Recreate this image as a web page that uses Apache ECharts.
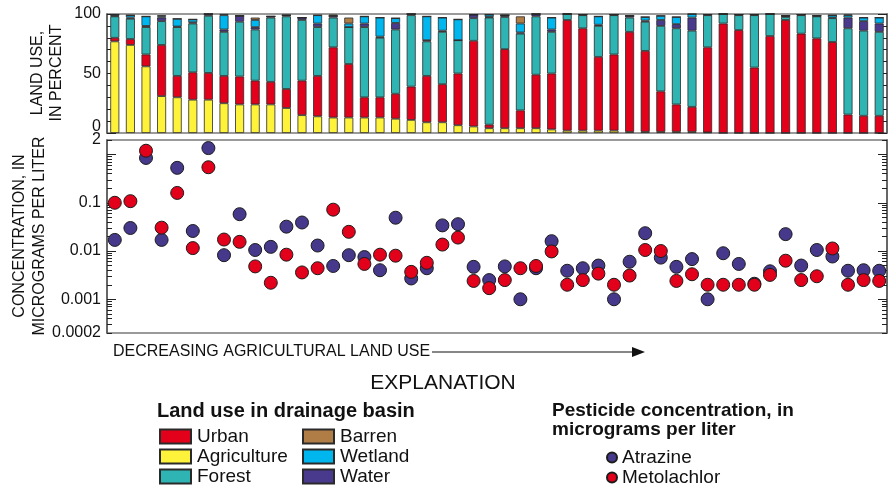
<!DOCTYPE html>
<html>
<head>
<meta charset="utf-8">
<script src="https://cdn.jsdelivr.net/npm/echarts@6/dist/echarts.min.js"></script>
<style>
  html, body { margin: 0; padding: 0; background: #fff; }
  #chart { width: 894px; height: 489px; }
</style>
</head>
<body>
<div id="chart"></div>
<script>
// Drainage basins, ordered by decreasing agricultural land use
const basins = ['1','2','3','4','5','6','7','8','9','10','11','12','13','14','15','16','17','18','19','20',
  '21','22','23','24','25','26','27','28','29','30','31','32','33','34','35','36','37','38','39','40',
  '41','42','43','44','45','46','47','48','49','50'];

// Land use in each drainage basin, percent
const agriculture = [77,74,56,31,30,28,28,25,24,24, 24,21,15,14,13,13,13,13,12,11,
  9,9,6.5,5.5,4,4,4,4,3,2, 2,2,2,1,1,1,1,1,0.5,0, 0,0,0,0,0,0,0,0,0,0];
const urban = [3,5,10,43,18,23,22.5,23,23.5,20, 19,16,29,34,59,45,17,17,21,28,
  39,32,43.5,72,3,66.5,15,45,47,93, 86,62,64,84,68,34,23,21,71.5,92,
  86.5,55,81.5,95,83.5,79.5,76.5,15.5,14.5,14.5];
const forest = [18,17,23,20,41,41,48,37,46,43, 54,61,51,41,25,31,59,50,54,60,
  29,44,28,19,90,27,64.5,49,35,5, 11,26,33,12,24.5,55,64,64,27,8,
  12.5,44,18.5,2.5,15.5,18.5,20,72.5,71.5,70.5];
const water = [0.5,1,1,3,0.5,1,1.5,2,5,2, 1,1,2,3,1.5,0,3,1,5.5,1,
  1,1,0,3,0.5,1.5,1,2,2,0, 0.5,1,0.5,1.5,1,5,3.5,11,0.5,0,
  0.5,0.5,0,1,0.5,0.5,0.5,9,8,7];
const wetland = [1,2,8,1,6.5,2.5,0,12,0,6, 0,0,0,7,0,3,6,16,4,0,
  20,11,17.5,0,2,0,7.5,0,10,0, 0,7,0,0,3,3.5,6,3,0,0,
  0,0,0,0,0,0,2,2,3,5];
const barren = [0,0,0,1,0,0,0,1,0,2, 0,0,0,0,1,5,0,0,0,0,
  0,0,0,0,0,0,6,0,0,0, 0,0,0,0,0,0,0,0,0,0,
  0,0,0,0,0,0,0,0.5,0,0];

// Pesticide concentrations, micrograms per liter
const atrazine = [0.017,0.030,0.85,0.017,0.53,0.026,1.36,0.0082,0.058,0.0105,
  0.0122,0.032,0.039,0.013,0.0049,0.0082,0.0075,0.004,0.049,0.0027,
  0.0044,0.034,0.036,0.0047,0.0025,0.0048,0.001,0.0044,0.016,0.0039,
  0.0044,0.005,0.001,0.006,0.0234,0.0073,0.0047,0.0068,0.001,0.009,
  0.0054,0.0021,0.0038,0.0224,0.005,0.0105,0.0077,0.0039,0.004,0.0039];
const metolachlor = [0.10,0.108,1.2,0.0305,0.16,0.0115,0.545,0.0173,0.0155,0.0048,
  0.0022,0.0084,0.0036,0.0044,0.072,0.025,0.0054,0.0084,0.008,0.0037,
  0.0057,0.0136,0.019,0.0024,0.0017,0.0025,0.0044,0.0049,0.0098,0.002,
  0.0025,0.0034,0.002,0.0031,0.0105,0.01,0.0024,0.0033,0.002,0.002,
  0.002,0.002,0.0032,0.0063,0.0025,0.003,0.0113,0.002,0.0025,0.0024];

// Axis ticks
const percentTicks = [0, 50, 100];
const concLabels = [0.0002, 0.001, 0.01, 0.1, 2];
const concDecades = [0.001, 0.01, 0.1, 1];
const concMin = 0.0002, concMax = 2;

const FONT = '"Liberation Sans", Arial, Helvetica, sans-serif';
const colors = {
  Urban: '#e3001b', Agriculture: '#fff23a', Forest: '#2fb4b4',
  Barren: '#b17d46', Wetland: '#00b6ee', Water: '#4a3a8e',
  Atrazine: '#46388b', Metolachlor: '#e3001b'
};

// minor log ticks: 1..9 within each decade
const concMinor = [];
[0.0001, 0.001, 0.01, 0.1, 1].forEach(d => {
  for (let m = 1; m <= 9; m++) {
    const v = +(m * d).toPrecision(6);
    if (v >= concMin && v <= concMax) concMinor.push(v);
  }
});

const fmtNum = v => String(+(+v).toPrecision(6));

const chart = echarts.init(document.getElementById('chart'), null, { renderer: 'canvas' });

function barSeries(name, data) {
  return {
    name, type: 'bar', stack: 'land', data,
    xAxisIndex: 0, yAxisIndex: 0, barWidth: 9,
    itemStyle: { color: colors[name], borderColor: '#2a2a2a', borderWidth: 0.8 },
    emphasis: { disabled: true }
  };
}
function dotSeries(name, data) {
  return {
    name, type: 'scatter', data,
    xAxisIndex: 1, yAxisIndex: 4, symbolSize: 13,
    itemStyle: { color: colors[name], borderColor: '#1c1c1c', borderWidth: 1, opacity: 1 },
    emphasis: { disabled: true }
  };
}

const tickLine = { color: '#222', width: 1 };
const axisLine = { show: true, lineStyle: { color: '#555', width: 1.5 } };
const legendText = { fontSize: 19, color: '#111', fontFamily: FONT, lineHeight: 19 };

const option = {
  animation: false,
  textStyle: { fontFamily: FONT },
  grid: [
    { left: 107, top: 14, width: 780, height: 119, show: true, borderColor: '#7a7a7a', borderWidth: 1.5 },
    { left: 107, top: 140, width: 780, height: 193, show: true, borderColor: '#7a7a7a', borderWidth: 1.5 }
  ],
  xAxis: [
    { type: 'category', data: basins, gridIndex: 0, show: false },
    { type: 'category', data: basins, gridIndex: 1, show: false }
  ],
  yAxis: [
    // land use, left side with labels
    { gridIndex: 0, type: 'value', min: 0, max: 100, interval: 10, position: 'left',
      axisLine, splitLine: { show: false },
      axisTick: { show: true, inside: true, length: 5, lineStyle: tickLine },
      axisLabel: { fontSize: 16, color: '#111', margin: 6,
        rich: { lo: { fontSize: 16, color: '#111', padding: [0, 0, 12, 0] } },
        formatter: v => v === 0 ? '{lo|0}' : (percentTicks.includes(v) ? String(v) : '') } },
    { gridIndex: 0, type: 'value', min: 0, max: 100, interval: 10, position: 'right',
      axisLine, splitLine: { show: false },
      axisTick: { show: true, inside: true, length: 5, lineStyle: tickLine }, axisLabel: { show: false } },
    { gridIndex: 0, type: 'value', min: 0, max: 100, interval: 50, position: 'left',
      axisLine: { show: false }, splitLine: { show: false },
      axisTick: { show: true, inside: true, length: 9, lineStyle: tickLine }, axisLabel: { show: false } },
    { gridIndex: 0, type: 'value', min: 0, max: 100, interval: 50, position: 'right',
      axisLine: { show: false }, splitLine: { show: false },
      axisTick: { show: true, inside: true, length: 9, lineStyle: tickLine }, axisLabel: { show: false } },
    // concentration, log scale
    { gridIndex: 1, type: 'log', logBase: 10, min: concMin, max: concMax, position: 'left',
      axisLine, splitLine: { show: false },
      axisTick: { show: true, inside: true, length: 5, lineStyle: tickLine, customValues: concMinor },
      axisLabel: { fontSize: 16, color: '#111', margin: 6, customValues: concLabels,
        formatter: v => fmtNum(v) } },
    { gridIndex: 1, type: 'log', logBase: 10, min: concMin, max: concMax, position: 'right',
      axisLine, splitLine: { show: false },
      axisTick: { show: true, inside: true, length: 5, lineStyle: tickLine, customValues: concMinor },
      axisLabel: { show: false } },
    { gridIndex: 1, type: 'log', logBase: 10, min: concMin, max: concMax, position: 'left',
      axisLine: { show: false }, splitLine: { show: false },
      axisTick: { show: true, inside: true, length: 9, lineStyle: tickLine, customValues: concDecades },
      axisLabel: { show: false } },
    { gridIndex: 1, type: 'log', logBase: 10, min: concMin, max: concMax, position: 'right',
      axisLine: { show: false }, splitLine: { show: false },
      axisTick: { show: true, inside: true, length: 9, lineStyle: tickLine, customValues: concDecades },
      axisLabel: { show: false } }
  ],
  legend: [
    { data: ['Urban', 'Agriculture', 'Forest'], orient: 'vertical', left: 159, top: 427, padding: 0,
      icon: 'rect', itemWidth: 31, itemHeight: 14, itemGap: 1, selectedMode: false,
      textStyle: Object.assign({ padding: [0, 0, 0, 1] }, legendText) },
    { data: ['Barren', 'Wetland', 'Water'], orient: 'vertical', left: 302, top: 427, padding: 0,
      icon: 'rect', itemWidth: 31, itemHeight: 14, itemGap: 1, selectedMode: false,
      textStyle: Object.assign({ padding: [0, 0, 0, 1] }, legendText) },
    { data: ['Atrazine', 'Metolachlor'], orient: 'vertical', left: 606, top: 448, padding: 0,
      icon: 'circle', itemWidth: 10, itemHeight: 10, itemGap: 1, selectedMode: false,
      textStyle: legendText }
  ],
  graphic: [
    { type: 'text', x: 47, y: 73, rotation: Math.PI / 2,
      style: { text: 'LAND USE,\nIN PERCENT', font: '16px ' + FONT, fill: '#111',
        align: 'center', verticalAlign: 'middle', lineHeight: 19 } },
    { type: 'text', x: 30, y: 236, rotation: Math.PI / 2,
      style: { text: 'CONCENTRATION, IN\nMICROGRAMS PER LITER', font: '16px ' + FONT, fill: '#111',
        align: 'center', verticalAlign: 'middle', lineHeight: 20 } },
    { type: 'text', x: 113, y: 352,
      style: { text: 'DECREASING AGRICULTURAL LAND USE', font: '16px ' + FONT, fill: '#111',
        align: 'left', verticalAlign: 'middle' } },
    { type: 'line', shape: { x1: 432, y1: 352, x2: 636, y2: 352 },
      style: { stroke: '#111', lineWidth: 1.2 } },
    { type: 'polygon', shape: { points: [[645, 352], [632, 347], [632, 357]] },
      style: { fill: '#111' } },
    { type: 'text', x: 443, y: 383,
      style: { text: 'EXPLANATION', font: '21px ' + FONT, fill: '#111',
        align: 'center', verticalAlign: 'middle' } },
    { type: 'text', x: 157, y: 411,
      style: { text: 'Land use in drainage basin', font: 'bold 20px ' + FONT, fill: '#111',
        align: 'left', verticalAlign: 'middle' } },
    { type: 'text', x: 552, y: 420,
      style: { text: 'Pesticide concentration, in\nmicrograms per liter', font: 'bold 19px ' + FONT,
        fill: '#111', align: 'left', verticalAlign: 'middle', lineHeight: 19 } }
  ],
  series: [
    barSeries('Agriculture', agriculture),
    barSeries('Urban', urban),
    barSeries('Forest', forest),
    barSeries('Water', water),
    barSeries('Wetland', wetland),
    barSeries('Barren', barren),
    dotSeries('Atrazine', atrazine),
    dotSeries('Metolachlor', metolachlor)
  ]
};

chart.setOption(option);
</script>
</body>
</html>
